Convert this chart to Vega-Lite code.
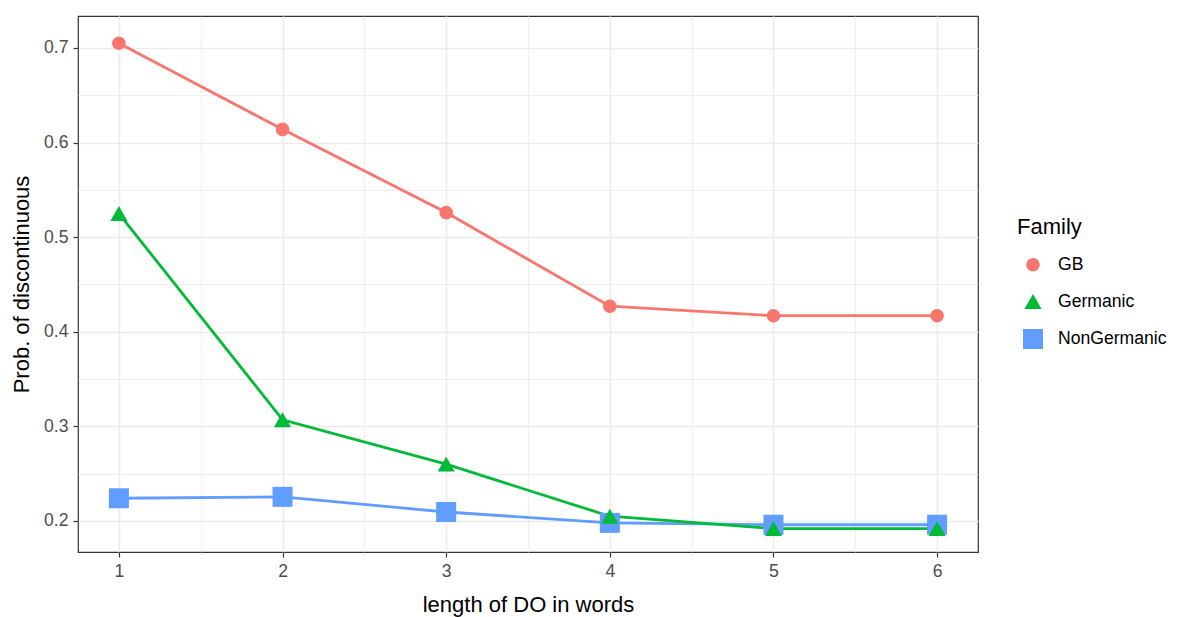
{
  "$schema": "https://vega.github.io/schema/vega-lite/v6.json",
  "width": 900,
  "height": 536,
  "autosize": "none",
  "padding": {"left": 78, "top": 16, "right": 207, "bottom": 65},
  "background": "white",
  "config": {
    "font": "Liberation Sans",
    "view": {"stroke": "#333333", "strokeWidth": 1.2},
    "axis": {
      "domain": false,
      "labelFont": "Liberation Sans",
      "labelFontSize": 17.6,
      "labelColor": "#4D4D4D",
      "titleFont": "Liberation Sans",
      "titleFontSize": 22,
      "titleFontWeight": "normal",
      "titleColor": "#000000",
      "tickColor": "#333333",
      "tickSize": 5,
      "tickWidth": 1.2,
      "gridColor": "#EBEBEB"
    },
    "legend": {
      "titleFont": "Liberation Sans",
      "titleFontSize": 22,
      "titleFontWeight": "normal",
      "titleColor": "#000000",
      "labelFont": "Liberation Sans",
      "labelFontSize": 17.6,
      "labelColor": "#000000"
    }
  },
  "data": {
    "values": [
      {"len": 1, "prob": 0.705, "Family": "GB"},
      {"len": 2, "prob": 0.614, "Family": "GB"},
      {"len": 3, "prob": 0.526, "Family": "GB"},
      {"len": 4, "prob": 0.427, "Family": "GB"},
      {"len": 5, "prob": 0.417, "Family": "GB"},
      {"len": 6, "prob": 0.417, "Family": "GB"},
      {"len": 1, "prob": 0.224, "Family": "NonGermanic"},
      {"len": 2, "prob": 0.2255, "Family": "NonGermanic"},
      {"len": 3, "prob": 0.2095, "Family": "NonGermanic"},
      {"len": 4, "prob": 0.198, "Family": "NonGermanic"},
      {"len": 5, "prob": 0.196, "Family": "NonGermanic"},
      {"len": 6, "prob": 0.196, "Family": "NonGermanic"},
      {"len": 1, "prob": 0.525, "Family": "Germanic"},
      {"len": 2, "prob": 0.307, "Family": "Germanic"},
      {"len": 3, "prob": 0.260, "Family": "Germanic"},
      {"len": 4, "prob": 0.205, "Family": "Germanic"},
      {"len": 5, "prob": 0.192, "Family": "Germanic"},
      {"len": 6, "prob": 0.192, "Family": "Germanic"}
    ]
  },
  "encoding": {
    "x": {
      "field": "len",
      "type": "quantitative",
      "title": "length of DO in words",
      "scale": {"domain": [0.75, 6.25], "nice": false, "zero": false},
      "axis": {
        "values": [1, 1.5, 2, 2.5, 3, 3.5, 4, 4.5, 5, 5.5, 6],
        "labelExpr": "datum.value % 1 == 0 ? format(datum.value, 'd') : ''",
        "tickOpacity": {"condition": {"test": "datum.value % 1 == 0", "value": 1}, "value": 0},
        "gridWidth": {"condition": {"test": "datum.value % 1 == 0", "value": 1.6}, "value": 0.8},
        "labelPadding": 5,
        "titlePadding": 15
      }
    },
    "y": {
      "field": "prob",
      "type": "quantitative",
      "title": "Prob. of discontinuous",
      "scale": {"domain": [0.1672, 0.7338], "nice": false, "zero": false},
      "axis": {
        "values": [0.2, 0.25, 0.3, 0.35, 0.4, 0.45, 0.5, 0.55, 0.6, 0.65, 0.7],
        "labelExpr": "abs(datum.value*10 - round(datum.value*10)) < 0.01 ? format(datum.value, '.1f') : ''",
        "tickOpacity": {"condition": {"test": "abs(datum.value*10 - round(datum.value*10)) < 0.01", "value": 1}, "value": 0},
        "gridWidth": {"condition": {"test": "abs(datum.value*10 - round(datum.value*10)) < 0.01", "value": 1.6}, "value": 0.8},
        "labelPadding": 5,
        "titlePadding": 10
      }
    },
    "color": {
      "field": "Family",
      "type": "nominal",
      "scale": {"domain": ["GB", "Germanic", "NonGermanic"], "range": ["#F8766D", "#00BA38", "#619CFF"]},
      "legend": {
        "orient": "none",
        "legendX": 939,
        "legendY": 201,
        "titlePadding": 17,
        "rowPadding": 18.5,
        "symbolStrokeWidth": 0,
        "symbolOffset": 6,
        "labelOffset": 15
      }
    },
    "shape": {
      "field": "Family",
      "type": "nominal",
      "scale": {"domain": ["GB", "Germanic", "NonGermanic"], "range": ["circle", "triangle-up", "square"]}
    }
  },
  "layer": [
    {"mark": {"type": "line", "strokeWidth": 2.8}, "encoding": {"shape": {"value": "circle"}}},
    {
      "mark": {"type": "point", "filled": true, "opacity": 1},
      "encoding": {
        "size": {
          "field": "Family",
          "type": "nominal",
          "scale": {"domain": ["GB", "Germanic", "NonGermanic"], "range": [185, 400, 285]},
          "legend": null
        }
      }
    }
  ]
}
